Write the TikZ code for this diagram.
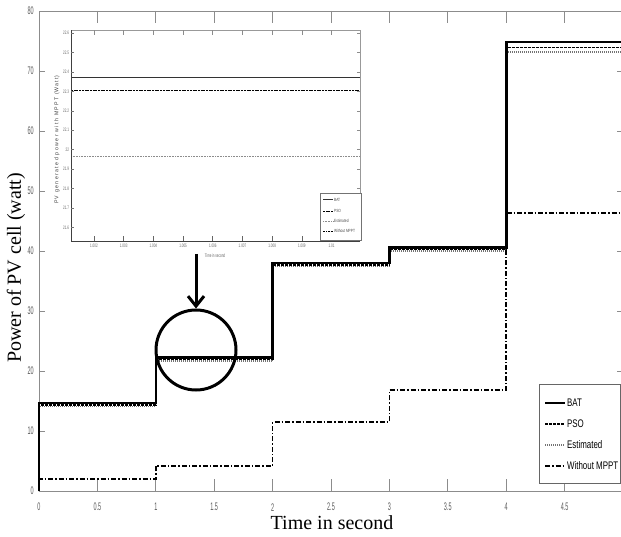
\documentclass[tikz,border=0pt]{standalone}
\usepackage{fontspec}
\setmainfont{Liberation Serif}
\setsansfont{Liberation Sans}
\usetikzlibrary{arrows.meta}
\tikzset{
  axisline/.style={draw=black!45, line width=0.7pt},
  tickmark/.style={draw=black!45, line width=0.7pt},
  ticklbl/.style={font=\sffamily\fontsize{11}{12}\selectfont, text=black!65, xscale=0.5, inner sep=0pt},
  iticklbl/.style={font=\sffamily\fontsize{5}{6}\selectfont, text=black!60, xscale=0.6, inner sep=0pt},
  batline/.style={draw=black, line width=2.6pt},
  psoline/.style={draw=black, line width=1.8pt, dash pattern=on 3pt off 1pt},
  estline/.style={draw=black!55, line width=1.5pt, dash pattern=on 1pt off 1pt},
  wline/.style={draw=black, line width=1.5pt, dash pattern=on 5pt off 2pt on 1.5pt off 2pt},
  ibat/.style={draw=black!80, line width=1pt},
  ipso/.style={draw=black, line width=0.9pt, dash pattern=on 2pt off 0.7pt},
  iest/.style={draw=black!45, line width=0.8pt, dash pattern=on 0.8pt off 0.8pt},
  iw/.style={draw=black, line width=0.7pt, dash pattern=on 2pt off 1pt on 0.7pt off 1pt},
  leglbl/.style={font=\sffamily\fontsize{11}{12}\selectfont, xscale=0.72, inner sep=0pt, anchor=west},
  ileglbl/.style={font=\sffamily\fontsize{4.5}{5}\selectfont, xscale=0.72, inner sep=0pt, anchor=west, text=black!70},
  zoomring/.style={circle, draw=black, line width=3pt, minimum size=80pt, inner sep=0pt},
  bigarrow/.style={draw=black, line width=3pt, -{Straight Barb[length=10pt,width=16pt]}},
}
\begin{document}
\begin{tikzpicture}[x=1pt,y=1pt]
\useasboundingbox (0,0) rectangle (621,536);
\clip (0,0) rectangle (621,536);
\fill[white] (0,0) rectangle (621,536);

% ---------- main axes ----------
\begin{scope}[shift={(39pt,45pt)}, x=116.8pt, y=6pt]
  \draw[axisline] (0,0) rectangle (5,80);
  \foreach \t in {0.5,1,1.5,2,2.5,3,3.5,4,4.5} {
    \draw[tickmark] (\t,0) -- ++(0,2);
    \draw[tickmark] (\t,80) -- ++(0,-2);
  }
  \foreach \v in {10,20,30,40,50,60,70} {
    \draw[tickmark] (0,\v) -- ++(0.05,0);
    \draw[tickmark] (5,\v) -- ++(-0.05,0);
  }
  \foreach \t/\l in {0/0,0.5/0.5,1/1,1.5/1.5,2/2,2.5/2.5,3/3,3.5/3.5,4/4,4.5/4.5}
    \node[ticklbl] (xl\l) at (\t,-2.7) {\l};
  \foreach \v in {0,10,20,30,40,50,60,70,80}
    \node[ticklbl, anchor=east] (yl\v) at (-0.045,\v) {\v};

  % data
  \draw[estline] (0,0) -- (0,14.1) -- (1,14.1) -- (1,21.7) -- (2,21.7) -- (2,37.4) -- (3,37.4) -- (3,40.0) -- (4,40.0) -- (4,73.2) -- (5,73.2);
  \draw[psoline] (0,0) -- (0,14.35) -- (1,14.35) -- (1,21.95) -- (2,21.95) -- (2,37.65) -- (3,37.65) -- (3,40.25) -- (4,40.25) -- (4,73.9) -- (5,73.9);
  \draw[batline] (0,0) -- (0,14.7) -- (1,14.7) -- (1,22.3) -- (2,22.3) -- (2,38.0) -- (3,38.0) -- (3,40.6) -- (4,40.6) -- (4,74.8) -- (5,74.8);
  \draw[wline] (0,0) -- (0,2.0) -- (1,2.0) -- (1,4.2) -- (2,4.2) -- (2,11.5) -- (3,11.5) -- (3,16.8) -- (4,16.8) -- (4,46.3) -- (5,46.3);
\end{scope}

% axis titles
\node[font=\fontsize{20}{24}\selectfont, inner sep=0pt] (xtitle) at (332,13) {Time in second};
\node[font=\fontsize{20}{24}\selectfont, inner sep=0pt, rotate=90] (ytitle) at (16,268) {Power of PV cell (watt)};

% main legend
\draw[axisline, draw=black!60, fill=white] (539,53) rectangle (620,152);
\coordinate (lb1) at (545,133); \coordinate (lb2) at (565,133);
\coordinate (lp1) at (545,112); \coordinate (lp2) at (565,112);
\coordinate (le1) at (545,91);  \coordinate (le2) at (565,91);
\coordinate (lw1) at (545,70);  \coordinate (lw2) at (565,70);
\draw[batline, line width=2pt] (lb1) -- (lb2);
\draw[psoline] (lp1) -- (lp2);
\draw[estline] (le1) -- (le2);
\draw[wline, line width=1.2pt] (lw1) -- (lw2);
\node[leglbl] (legbat) at (567,133) {BAT};
\node[leglbl] (legpso) at (567,112) {PSO};
\node[leglbl] (legest) at (567,91) {Estimated};
\node[leglbl] (legw) at (567,70) {Without MPPT};

% ---------- inset ----------
\begin{scope}[shift={(94pt,308.5pt)}, x=29.7pt, y=19.45pt]
  \fill[white] (-0.774,-0.694) rectangle (8.956,10.15);
  \draw[ibat] (-0.774,7.69) -- (8.956,7.69);
  \draw[ipso] (-0.774,7.07) -- (8.956,7.07);
  \draw[iest] (-0.774,3.68) -- (8.956,3.68);
  \draw[axisline, draw=black!40, line width=0.6pt] (-0.774,10.15) -- (8.956,10.15) -- (8.956,-0.694);
  \draw[draw=black!75, line width=0.8pt] (-0.774,10.15) -- (-0.774,-0.694) -- (8.956,-0.694);
  \foreach \k in {0,...,8} {
    \draw[tickmark, draw=black!60] (\k,-0.694) -- ++(0,0.26);
    \draw[tickmark, draw=black!45] (\k,10.15) -- ++(0,-0.26);
  }
  \foreach \m in {0,...,10} {
    \draw[tickmark, draw=black!55, line width=0.5pt] (-0.774,\m) -- ++(0.1,0);
    \draw[tickmark, draw=black!45, line width=0.5pt] (8.956,\m) -- ++(-0.1,0);
  }
  \foreach \k/\l in {0/1.002,1/1.003,2/1.004,3/1.005,4/1.006,5/1.007,6/1.008,7/1.009,8/1.01}
    \node[iticklbl] (ixl\k) at (\k,-0.95) {\l};
  \foreach \m/\l in {0/21.6,1/21.7,2/21.8,3/21.9,4/22,5/22.1,6/22.2,7/22.3,8/22.4,9/22.5,10/22.6}
    \node[iticklbl, anchor=east] (iyl\m) at (-0.84,\m) {\l};
\end{scope}
\node[iticklbl, xscale=1] (ixtitle) at (215,280) {Time in second};
\node[rotate=90, inner sep=0pt, text=black!75] (iytitle) at (57,396)
  {\resizebox{128pt}{4pt}{\sffamily P V\ \ g e n e r a t e d\ \ p o w e r\ \ w i t h\ \ M P P T\ \ (W a t t)}};

% inset legend
\draw[draw=black!55, line width=0.6pt, fill=white] (320,296) rectangle (361,343);
\coordinate (ib1) at (323,336); \coordinate (ib2) at (333,336);
\coordinate (ip1) at (323,325); \coordinate (ip2) at (333,325);
\coordinate (ie1) at (323,315); \coordinate (ie2) at (333,315);
\coordinate (iw1) at (323,305); \coordinate (iw2) at (333,305);
\draw[ibat] (ib1) -- (ib2);
\draw[ipso] (ip1) -- (ip2);
\draw[iest] (ie1) -- (ie2);
\draw[iw] (iw1) -- (iw2);
\node[ileglbl] (ilbat) at (334,336) {BAT};
\node[ileglbl] (ilpso) at (334,325) {PSO};
\node[ileglbl] (ilest) at (334,315) {Estimated};
\node[ileglbl] (ilw) at (334,305) {Without MPPT};

% zoom circle and arrow
\node[zoomring] (ring) at (196,186) {};
\coordinate (arrowtop) at (196,282);
\draw[bigarrow] (arrowtop) -- (ring.north);
\end{tikzpicture}
\end{document}
